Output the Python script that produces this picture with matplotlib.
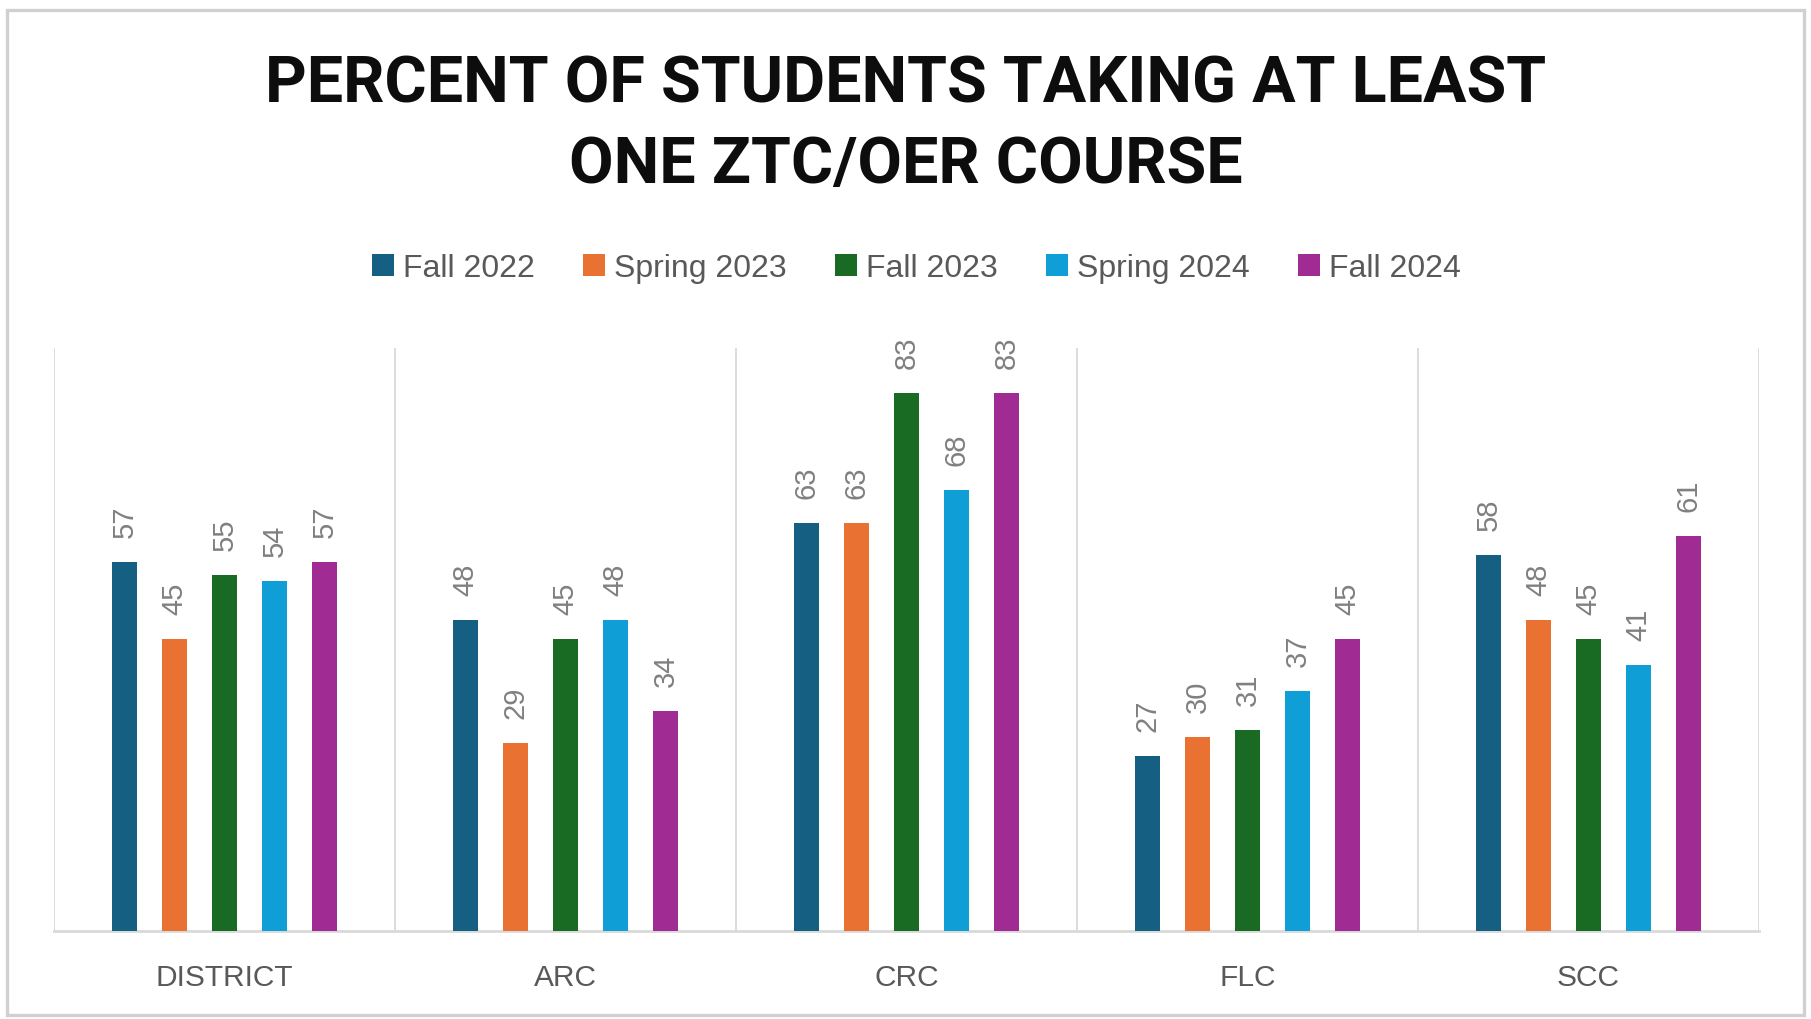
import matplotlib
matplotlib.use("Agg")
import matplotlib.pyplot as plt
from matplotlib import font_manager as fm
from matplotlib.patches import Patch, Rectangle

# data
campuses = ["DISTRICT", "ARC", "CRC", "FLC", "SCC"]
terms = ["Fall 2022", "Spring 2023", "Fall 2023", "Spring 2024", "Fall 2024"]
fall22 = [57, 48, 63, 27, 58]
spring23 = [45, 29, 63, 30, 48]
fall23 = [55, 45, 83, 31, 45]
spring24 = [54, 48, 68, 37, 41]
fall24 = [57, 34, 83, 45, 61]
series = [fall22, spring23, fall23, spring24, fall24]
colors = ["#156082", "#E97132", "#196B24", "#0F9ED5", "#A02B93"]

have = {f.name for f in fm.fontManager.ttflist}
def pick(*names):
    for n in names:
        if n in have:
            return n
    return "DejaVu Sans"
TITLE_FONT = pick("Roboto", "Liberation Sans")
BODY_FONT = pick("Liberation Sans", "Roboto")
GRID = "#d9d9d9"; TXT = "#595959"; LBL = "#808080"

fig = plt.figure(figsize=(18.11, 10.2), dpi=100)
fig.patch.set_facecolor("white")
# outer chart frame
fig.patches.append(Rectangle((0.004, 0.004), 0.992, 0.985, transform=fig.transFigure,
                             fill=False, edgecolor="#d0d0d0", lw=2.4))

ax = fig.add_axes([0.0298, 0.0863, 0.9415, 0.5716])
n = len(series)
step, bw = 0.1466, 0.075
for j, (vals, col) in enumerate(zip(series, colors)):
    xs = [i + (j - (n - 1) / 2) * step for i in range(len(campuses))]
    bars = ax.bar(xs, vals, width=bw, color=col, zorder=3)
    for b, v in zip(bars, vals):
        ax.annotate(f"{v}", (b.get_x() + b.get_width() / 2, v), xytext=(0, 18),
                    textcoords="offset points", rotation=90, ha="center", va="bottom",
                    fontsize=21, color=LBL, family=BODY_FONT)

ax.set_xlim(-0.5, len(campuses) - 0.5)
ax.set_ylim(0, 90)
for k in range(len(campuses) + 1):
    ax.axvline(k - 0.5, color=GRID, lw=1.3, zorder=1)
for s in ["top", "left", "right"]:
    ax.spines[s].set_visible(False)
ax.spines["bottom"].set_color(GRID); ax.spines["bottom"].set_linewidth(2)
ax.set_yticks([])
ax.set_xticks(range(len(campuses)))
ax.set_xticklabels(campuses, fontsize=21.5, color=TXT, family=BODY_FONT)
ax.tick_params(axis="x", length=0, pad=23)

fig.text(0.5003, 0.877, "PERCENT OF STUDENTS TAKING AT LEAST\nONE ZTC/OER COURSE",
         ha="center", va="center", fontsize=46.5, weight="bold", color="#0d0d0d",
         family=TITLE_FONT, linespacing=1.4)

handles = [Patch(facecolor=c) for c in colors]
fig.legend(handles, terms, loc="center", bbox_to_anchor=(0.506, 0.736), ncol=5, frameon=False,
           prop={"family": BODY_FONT, "size": 23}, labelcolor=TXT, handlelength=0.69,
           handleheight=0.69, handletextpad=0.29, columnspacing=1.5)

fig.savefig("out.png", dpi=100, facecolor="white")
